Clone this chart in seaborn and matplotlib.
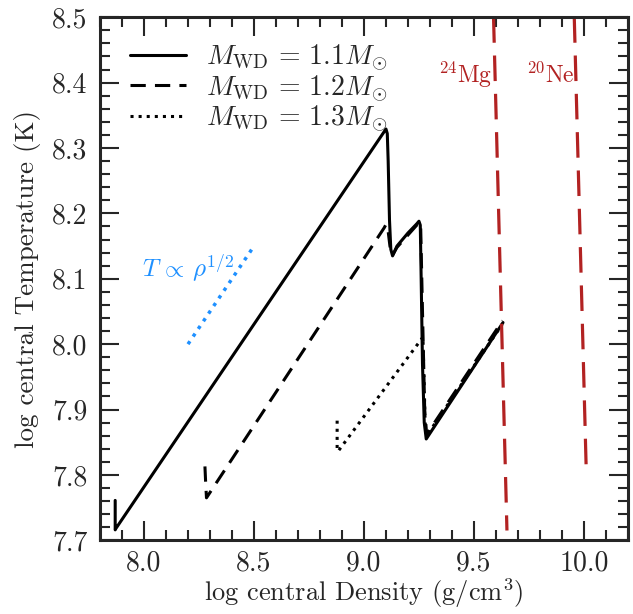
import numpy as np
import pandas as pd
import matplotlib
matplotlib.use("Agg")
import matplotlib.pyplot as plt
import seaborn as sns

# central density / temperature tracks (log10)
rho_11 = [7.869, 7.869, 7.872, 9.090, 9.100, 9.106, 9.110, 9.116, 9.122, 9.130,
          9.150, 9.200, 9.240, 9.250, 9.256, 9.260, 9.266, 9.274, 9.283, 9.632]
T_11 = [7.761, 7.716, 7.718, 8.324, 8.329, 8.322, 8.280, 8.190, 8.145, 8.135,
        8.150, 8.170, 8.184, 8.188, 8.182, 8.100, 7.970, 7.880, 7.855, 8.033]

rho_12 = [8.277, 8.280, 8.284, 9.092, 9.100, 9.108, 9.118, 9.128,
          9.150, 9.240, 9.250, 9.258, 9.266, 9.276, 9.285, 9.630]
T_12 = [7.813, 7.790, 7.765, 8.178, 8.183, 8.178, 8.150, 8.135,
        8.148, 8.182, 8.186, 8.176, 8.050, 7.900, 7.862, 8.036]

rho_13 = [8.878, 8.878, 8.882, 9.262, 9.268, 9.272, 9.278, 9.285, 9.628]
T_13 = [7.883, 7.840, 7.836, 8.008, 8.011, 7.960, 7.880, 7.860, 8.030]

# T ~ rho^(1/2) guide
rho_guide = [8.20, 8.50]
T_guide = [8.00, 8.15]

# electron-capture thresholds
rho_mg = [9.589, 9.650]
T_mg = [8.50, 7.715]
rho_ne = [9.956, 10.011]
T_ne = [8.50, 7.800]

labels = [r'$M_{\rm WD}\,=\,1.1M_{\odot}$',
          r'$M_{\rm WD}\,=\,1.2M_{\odot}$',
          r'$M_{\rm WD}\,=\,1.3M_{\odot}$']

sns.set_style("ticks")
plt.rcParams['font.family'] = 'serif'
plt.rcParams['font.serif'] = ['cmr10', 'DejaVu Serif']
plt.rcParams['mathtext.fontset'] = 'cm'
plt.rcParams['axes.formatter.use_mathtext'] = True
plt.rcParams['axes.unicode_minus'] = False

fig = plt.figure(figsize=(6.33, 6.14), dpi=100)
ax = fig.add_axes([0.158, 0.12, 0.834, 0.852])

sns.lineplot(x=rho_11, y=T_11, sort=False, estimator=None, color='black',
             linewidth=2.2, label=labels[0], ax=ax)
sns.lineplot(x=rho_12, y=T_12, sort=False, estimator=None, color='black',
             linewidth=2.2, linestyle=(0, (5, 3)), label=labels[1], ax=ax)
sns.lineplot(x=rho_13, y=T_13, sort=False, estimator=None, color='black',
             linewidth=2.2, linestyle=':', label=labels[2], ax=ax)

sns.lineplot(x=rho_guide, y=T_guide, sort=False, estimator=None, color='#1E90FF',
             linewidth=2.5, linestyle=':', ax=ax)
sns.lineplot(x=rho_mg, y=T_mg, sort=False, estimator=None, color='#B22222',
             linewidth=2.3, linestyle=(0, (8, 4)), ax=ax)
sns.lineplot(x=rho_ne, y=T_ne, sort=False, estimator=None, color='#B22222',
             linewidth=2.3, linestyle=(0, (8, 4)), ax=ax)

ax.text(7.99, 8.102, r'$T\,\propto\,\rho^{1/2}$', color='#1E90FF', fontsize=18)
ax.text(9.335, 8.40, r'$^{24}$Mg', color='#B22222', fontsize=17)
ax.text(9.735, 8.40, r'$^{20}$Ne', color='#B22222', fontsize=17)

ax.set_xlim(7.8, 10.2)
ax.set_ylim(7.7, 8.5)
ax.set_xticks([8.0, 8.5, 9.0, 9.5, 10.0])
ax.set_yticks(np.round(np.arange(7.7, 8.51, 0.1), 1))
ax.xaxis.set_minor_locator(plt.MultipleLocator(0.1))
ax.yaxis.set_minor_locator(plt.MultipleLocator(0.02))
ax.xaxis.set_major_formatter(plt.FormatStrFormatter('%.1f'))
ax.yaxis.set_major_formatter(plt.FormatStrFormatter('%.1f'))
ax.tick_params(which='both', direction='in', top=True, right=True, width=1.5)
ax.tick_params(which='major', length=14, labelsize=20, pad=9)
ax.tick_params(which='minor', length=7)
ax.tick_params(axis='x', which='major', pad=7)
for s in ax.spines.values():
    s.set_linewidth(2.2)

ax.set_xlabel(r'log central Density (g/cm$^3$)', fontsize=19, labelpad=0)
ax.set_ylabel('log central Temperature (K)', fontsize=19.5, labelpad=8)

leg = ax.legend(loc='upper left', frameon=False, fontsize=20, handlelength=2.0,
                labelspacing=0.0, handletextpad=0.75, borderaxespad=0.3,
                bbox_to_anchor=(0.02, 0.99))

fig.savefig('out.png', dpi=100)
